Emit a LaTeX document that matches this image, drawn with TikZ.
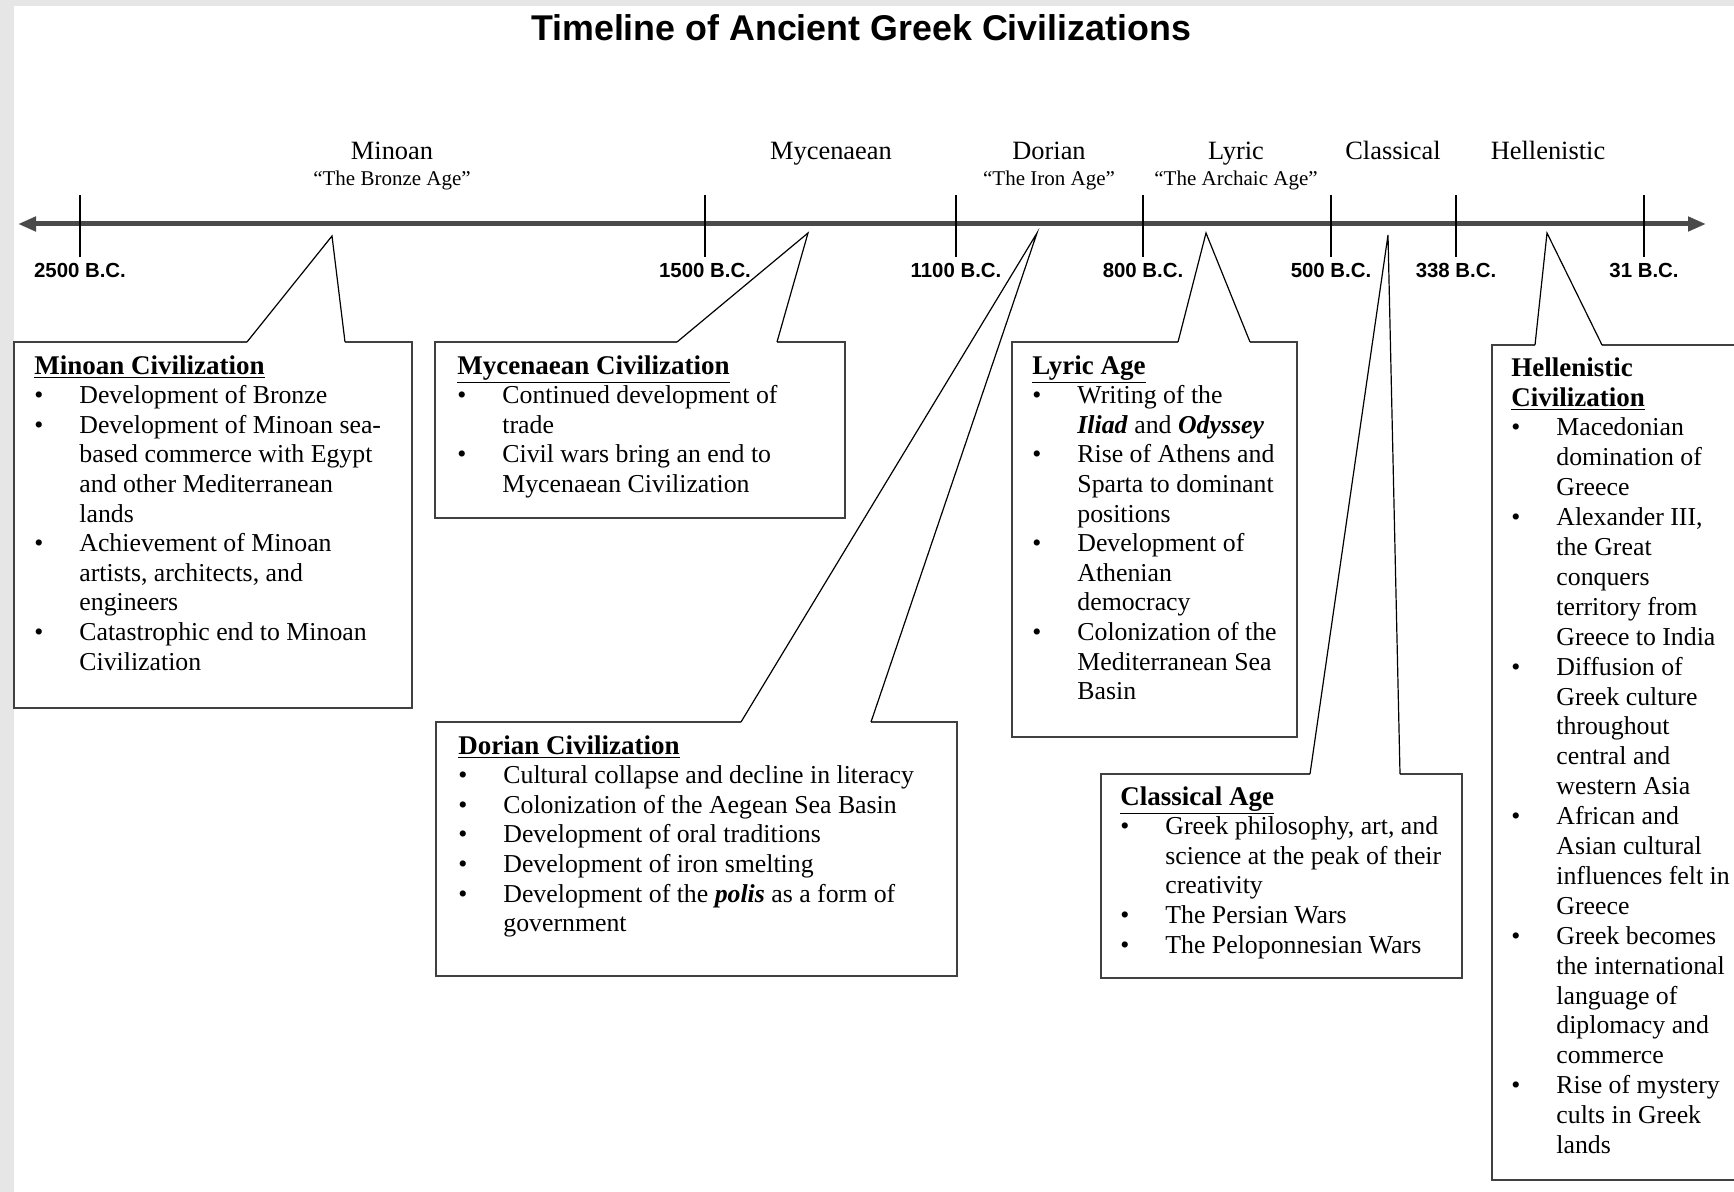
\documentclass[tikz,border=0pt]{standalone}
\usepackage{fontspec}
\setmainfont{Liberation Serif}
\newfontfamily\headfont{Liberation Sans}
\usepackage{xcolor}
\definecolor{bordergray}{HTML}{E6E6E6}
\definecolor{linegray}{HTML}{4A4A4A}
\usetikzlibrary{
    arrows.meta,
    positioning
}
\tikzstyle{timeline} = [
    line width=2.5pt,
    draw=linegray,
    {Triangle[length=9pt,width=7pt]}-{Triangle[length=9pt,width=7pt]}
]
\tikzstyle{tickmark} = [
    line width=0.7pt,
    draw=black
]
\tikzstyle{boldtick} = [
    line width=1.4pt,
    draw=black
]
\tikzstyle{datelabel} = [
    font={\headfont\bfseries\fontsize{10.2}{12}\selectfont},
    anchor=base,
    inner sep=0pt
]
\tikzstyle{eralabel} = [
    font={\fontsize{13.2}{15}\selectfont},
    anchor=base,
    inner sep=0pt
]
\tikzstyle{agelabel} = [
    font={\fontsize{10.5}{12}\selectfont},
    anchor=base,
    inner sep=0pt
]
\tikzstyle{boxline} = [
    line width=1.2pt,
    draw=black!75
]
\tikzstyle{pointer} = [
    line width=0.6pt,
    draw=black
]
\tikzstyle{boxtext} = [
    anchor=north west,
    align=left,
    inner sep=0pt,
    font={\fontsize{12.9}{14.8}\selectfont}
]
\newcommand{\bul}{\makebox[22.5pt][l]{\textbullet}}
\newcommand{\cnt}{\makebox[22.5pt]{}}
\newcommand{\boxhead}[1]{{\fontsize{13.5}{14.8}\selectfont\bfseries\underline{#1}}}

\begin{document}
\begin{tikzpicture}[x=0.5pt, y=-0.5pt]
    \useasboundingbox (0,0) rectangle (1734,1192);
    % Page frame
    \fill[white] (0,0) rectangle (1734,1192);
    \fill[bordergray] (0,0) rectangle (14,1192);
    \fill[bordergray] (0,0) rectangle (1734,6);

    % Title
    \node[font={\headfont\bfseries\fontsize{17.9}{20}\selectfont}, anchor=base, inner sep=0pt] (title) at (861,41) {Timeline of Ancient Greek Civilizations};

    % Time axis
    \coordinate (axisl) at (18,224);
    \coordinate (axisr) at (1706,224);
    \draw[timeline] (axisl) -- (axisr);

    % Ticks and dates
    \foreach \x/\yr in {80/2500, 705/1500, 1331/500, 1456/338, 1644/31} {
        \draw[tickmark] (\x,195) -- (\x,257);
        \node[datelabel] (d\yr) at (\x,278) {\yr\ B.C.};
    }
    \foreach \x/\yr in {956/1100, 1143/800} {
        \draw[boldtick] (\x,195) -- (\x,257);
        \node[datelabel] (d\yr) at (\x,278) {\yr\ B.C.};
    }

    % Era names
    \node[eralabel] (minoan) at (392,160) {Minoan};
    \node[agelabel] (bronze) at (392,186) {``The Bronze Age''};
    \node[eralabel] (mycenaean) at (831,160) {Mycenaean};
    \node[eralabel] (dorian) at (1049,160) {Dorian};
    \node[agelabel] (iron) at (1049,186) {``The Iron Age''};
    \node[eralabel] (lyric) at (1236,160) {Lyric};
    \node[agelabel] (archaic) at (1236,186) {``The Archaic Age''};
    \node[eralabel] (classical) at (1393,160) {Classical};
    \node[eralabel] (hellenistic) at (1548,160) {Hellenistic};

    % Minoan box
    \coordinate (minoanpt) at (332,236);
    \fill[white] (14,342) rectangle (412,708);
    \draw[boxline] (247,342) -- (14,342) -- (14,708) -- (412,708) -- (412,342) -- (345,342);
    \draw[pointer] (247,342) -- (minoanpt) -- (345,342);
    \node[boxtext] (minoanbox) at (34,355) {
        \boxhead{Minoan Civilization}\\
        \bul Development of Bronze\\
        \bul Development of Minoan sea-\\
        \cnt based commerce with Egypt\\
        \cnt and other Mediterranean\\
        \cnt lands\\
        \bul Achievement of Minoan\\
        \cnt artists, architects, and\\
        \cnt engineers\\
        \bul Catastrophic end to Minoan\\
        \cnt Civilization
    };

    % Mycenaean box
    \coordinate (mycenaeanpt) at (808,233);
    \draw[boxline] (677,342) -- (435,342) -- (435,518) -- (845,518) -- (845,342) -- (777,342);
    \draw[pointer] (677,342) -- (mycenaeanpt) -- (777,342);
    \node[boxtext] (mycenaeanbox) at (457,355) {
        \boxhead{Mycenaean Civilization}\\
        \bul Continued development of\\
        \cnt trade\\
        \bul Civil wars bring an end to\\
        \cnt Mycenaean Civilization
    };

    % Dorian box
    \coordinate (dorianpt) at (1037,233);
    \draw[boxline] (741,722) -- (436,722) -- (436,976) -- (957,976) -- (957,722) -- (871,722);
    \draw[pointer] (741,722) -- (dorianpt) -- (871,722);
    \node[boxtext] (dorianbox) at (458,735) {
        \boxhead{Dorian Civilization}\\
        \bul Cultural collapse and decline in literacy\\
        \bul Colonization of the Aegean Sea Basin\\
        \bul Development of oral traditions\\
        \bul Development of iron smelting\\
        \bul Development of the \textbf{\textit{polis}} as a form of\\
        \cnt government
    };

    % Lyric box
    \coordinate (lyricpt) at (1206,233);
    \draw[boxline] (1178,342) -- (1012,342) -- (1012,737) -- (1297,737) -- (1297,342) -- (1250,342);
    \draw[pointer] (1178,342) -- (lyricpt) -- (1250,342);
    \node[boxtext] (lyricbox) at (1032,355) {
        \boxhead{Lyric Age}\\
        \bul Writing of the\\
        \cnt \textbf{\textit{Iliad}} and \textbf{\textit{Odyssey}}\\
        \bul Rise of Athens and\\
        \cnt Sparta to dominant\\
        \cnt positions\\
        \bul Development of\\
        \cnt Athenian\\
        \cnt democracy\\
        \bul Colonization of the\\
        \cnt Mediterranean Sea\\
        \cnt Basin
    };

    % Classical box
    \coordinate (classicalpt) at (1388,235);
    \draw[boxline] (1310,774) -- (1101,774) -- (1101,978) -- (1462,978) -- (1462,774) -- (1400,774);
    \draw[pointer] (1310,774) -- (classicalpt) -- (1400,774);
    \node[boxtext] (classicalbox) at (1120,786) {
        \boxhead{Classical Age}\\
        \bul Greek philosophy, art, and\\
        \cnt science at the peak of their\\
        \cnt creativity\\
        \bul The Persian Wars\\
        \bul The Peloponnesian Wars
    };

    % Hellenistic box (runs off the right edge)
    \coordinate (hellenisticpt) at (1547,233);
    \draw[boxline] (1535,345) -- (1492,345) -- (1492,1180) -- (1760,1180);
    \draw[boxline] (1602,345) -- (1760,345);
    \draw[pointer] (1535,345) -- (hellenisticpt) -- (1602,345);
    \node[boxtext, font={\fontsize{12.9}{14.95}\selectfont}] (hellenisticbox) at (1511,357) {
        {\fontsize{13.5}{14.95}\selectfont\bfseries Hellenistic}\\
        \boxhead{Civilization}\\
        \bul Macedonian\\
        \cnt domination of\\
        \cnt Greece\\
        \bul Alexander III,\\
        \cnt the Great\\
        \cnt conquers\\
        \cnt territory from\\
        \cnt Greece to India\\
        \bul Diffusion of\\
        \cnt Greek culture\\
        \cnt throughout\\
        \cnt central and\\
        \cnt western Asia\\
        \bul African and\\
        \cnt Asian cultural\\
        \cnt influences felt in\\
        \cnt Greece\\
        \bul Greek becomes\\
        \cnt the international\\
        \cnt language of\\
        \cnt diplomacy and\\
        \cnt commerce\\
        \bul Rise of mystery\\
        \cnt cults in Greek\\
        \cnt lands
    };
\end{tikzpicture}
\end{document}
